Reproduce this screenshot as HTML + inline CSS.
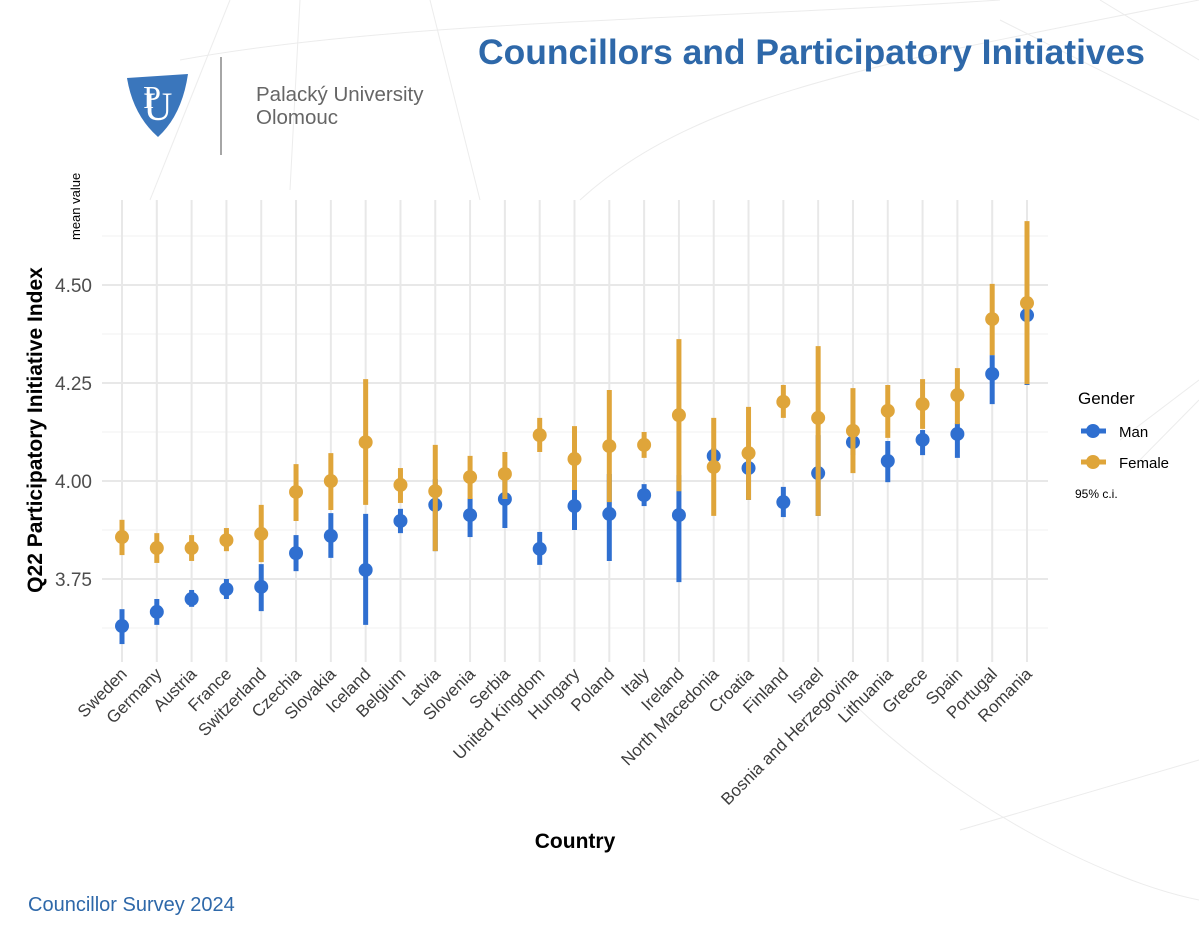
<!DOCTYPE html>
<html><head><meta charset="utf-8"><style>
body{margin:0;background:#fff;}
svg{display:block;font-family:"Liberation Sans",sans-serif;}
</style></head><body>
<svg id="chart" width="1199" height="926" viewBox="0 0 1199 926">
<g stroke="#ececec" fill="none" stroke-width="1">
<path d="M150 200 L230 0"/><path d="M180 60 C400 20 700 20 1000 0"/><path d="M290 190 L300 0"/>
<path d="M480 200 L430 0"/><path d="M580 200 C700 90 900 60 1199 0"/><path d="M1000 20 L1199 120"/>
<path d="M1100 0 L1199 60"/><path d="M1130 470 L1199 400"/><path d="M1120 440 L1199 380"/>
<path d="M850 700 C950 800 1100 880 1199 900"/><path d="M960 830 L1199 760"/>
</g>
<text x="478" y="64" fill="#2e68a9" font-size="35" font-weight="bold" textLength="667" lengthAdjust="spacingAndGlyphs">Councillors and Participatory Initiatives</text>
<g>
<path d="M127 78 L188 74 Q182 115 158 137 Q133 115 127 78 Z" fill="#3a76bc"/>
<text x="158" y="120" fill="#fff" font-size="40" font-family="Liberation Serif" text-anchor="middle">U</text>
<text x="152" y="108" fill="#fff" font-size="32" font-family="Liberation Serif" text-anchor="middle">P</text>
<line x1="221" y1="57" x2="221" y2="155" stroke="#888" stroke-width="1.5"/>
<text x="256" y="101" fill="#666" font-size="20.5">Palacký University</text>
<text x="256" y="124" fill="#666" font-size="20.5">Olomouc</text>
</g>
<text transform="translate(80,240) rotate(-90)" font-size="13" fill="#000">mean value</text>
<text transform="translate(42,430) rotate(-90)" font-size="21" font-weight="bold" text-anchor="middle" fill="#000">Q22 Participatory Initiative Index</text>
<text x="575" y="848" font-size="21" font-weight="bold" text-anchor="middle" fill="#000">Country</text>
<g id="grid"></g>
<g id="yticks"></g>
<g id="xticks"></g>
<g id="marks"></g>
<g>
<text x="1078" y="404" font-size="17" fill="#000">Gender</text>
<g>
<line x1="1081" y1="431" x2="1106" y2="431" stroke="#2f6fd0" stroke-width="5"/><circle cx="1093" cy="431" r="7" fill="#2f6fd0"/>
<text x="1119" y="437" font-size="15" fill="#000">Man</text></g>
<g>
<line x1="1081" y1="462" x2="1106" y2="462" stroke="#dfa53a" stroke-width="5"/><circle cx="1093" cy="462" r="7" fill="#dfa53a"/>
<text x="1119" y="468" font-size="15" fill="#000">Female</text></g>
<text x="1075" y="498" font-size="12" fill="#000">95% c.i.</text>
</g>
<text x="28" y="911" font-size="20" fill="#2e68a9">Councillor Survey 2024</text>
</svg>
<script>
const countries=["Sweden","Germany","Austria","France","Switzerland","Czechia","Slovakia","Iceland","Belgium","Latvia","Slovenia","Serbia","United Kingdom","Hungary","Poland","Italy","Ireland","North Macedonia","Croatia","Finland","Israel","Bosnia and Herzegovina","Lithuania","Greece","Spain","Portugal","Romania"];
const manMean=[3.630,3.666,3.699,3.724,3.730,3.816,3.860,3.773,3.898,3.939,3.913,3.954,3.827,3.936,3.916,3.964,3.913,4.064,4.033,3.946,4.020,4.099,4.051,4.105,4.120,4.273,4.423];
const manLo=[3.584,3.633,3.679,3.699,3.668,3.770,3.804,3.633,3.867,3.821,3.857,3.880,3.786,3.875,3.796,3.936,3.742,4.041,3.952,3.908,3.911,4.066,3.997,4.066,4.059,4.196,4.245];
const manHi=[3.673,3.699,3.722,3.750,3.788,3.862,3.918,3.916,3.929,4.005,3.957,4.005,3.870,4.000,4.018,3.992,4.015,4.084,4.079,3.985,4.117,4.130,4.102,4.130,4.148,4.321,4.526];
const femMean=[3.857,3.829,3.829,3.849,3.865,3.972,4.000,4.099,3.990,3.974,4.010,4.018,4.117,4.056,4.089,4.092,4.168,4.036,4.071,4.202,4.161,4.128,4.179,4.196,4.219,4.413,4.454];
const femLo=[3.811,3.791,3.796,3.821,3.793,3.898,3.926,3.939,3.944,3.821,3.954,3.954,4.074,3.977,3.946,4.059,3.974,3.911,3.952,4.161,3.911,4.020,4.110,4.133,4.145,4.321,4.247];
const femHi=[3.901,3.867,3.862,3.880,3.939,4.043,4.071,4.260,4.033,4.092,4.064,4.074,4.161,4.140,4.232,4.125,4.362,4.161,4.189,4.245,4.344,4.237,4.245,4.260,4.288,4.503,4.663];
const yTicks=[3.75,4.00,4.25,4.50];
const yTickLabels=["3.75","4.00","4.25","4.50"];
const yMinor=[3.625,3.875,4.125,4.375,4.625];
const NS="http://www.w3.org/2000/svg";
const X0=122,DX=(1027-122)/26,PL=102,PR=1048,PT=200,PB=662;
const xS=i=>X0+i*DX;
const yS=v=>481-(v-4)*392;
function mk(p,tag,at){const e=document.createElementNS(NS,tag);for(const k in at)e.setAttribute(k,at[k]);p.appendChild(e);return e;}
const grid=document.getElementById('grid');
yMinor.forEach(v=>{const l=mk(grid,'line',{x1:PL,x2:PR,y1:yS(v),y2:yS(v),stroke:'#f0f0f0','stroke-width':1});

});
yTicks.forEach(v=>{const l=mk(grid,'line',{x1:PL,x2:PR,y1:yS(v),y2:yS(v),stroke:'#e8e8e8','stroke-width':2});

});
countries.forEach((c,i)=>{const l=mk(grid,'line',{x1:xS(i),x2:xS(i),y1:PT,y2:PB,stroke:'#e8e8e8','stroke-width':2});

});
const yt=document.getElementById('yticks');
yTicks.forEach((v,i)=>{const t=mk(yt,'text',{x:92,y:yS(v)+7,'text-anchor':'end','font-size':19,fill:'#4d4d4d'});t.textContent=yTickLabels[i];

});
const xt=document.getElementById('xticks');
countries.forEach((c,i)=>{const t=mk(xt,'text',{transform:`translate(${xS(i)+6},${675}) rotate(-45)`,'text-anchor':'end','font-size':17,fill:'#3d3d3d'});t.textContent=c;

});
const marks=document.getElementById('marks');
function series(mean,lo,hi,col,name){
 countries.forEach((c,i)=>{
  const g=mk(marks,'g',{});
  
  
  mk(g,'line',{x1:xS(i),x2:xS(i),y1:yS(lo[i]),y2:yS(hi[i]),stroke:col,'stroke-width':5});
  mk(g,'circle',{cx:xS(i),cy:yS(mean[i]),r:7,fill:col});
 });
}
series(manMean,manLo,manHi,'#2f6fd0','man');
series(femMean,femLo,femHi,'#dfa53a','female');
</script>
</body></html>
